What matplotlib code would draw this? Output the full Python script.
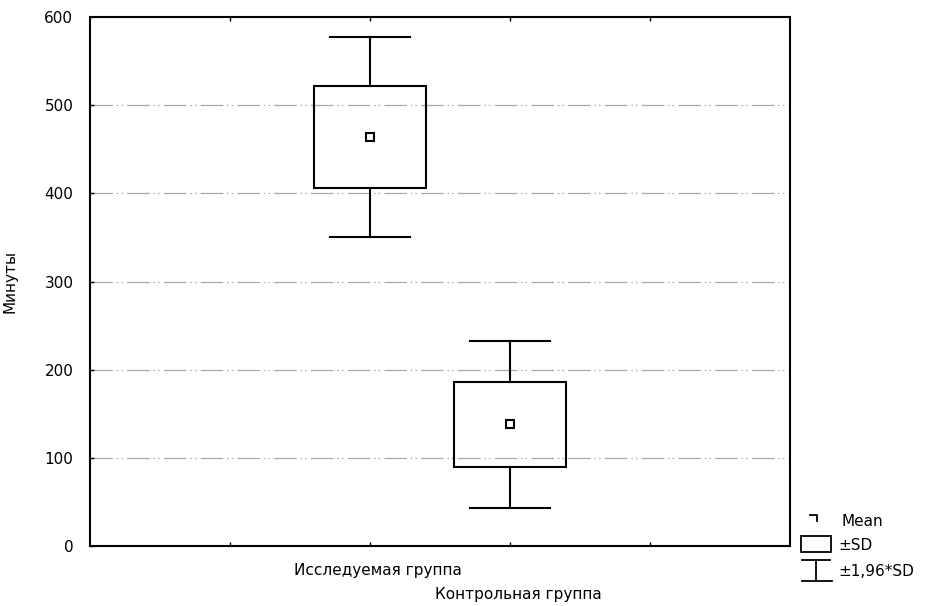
import numpy as np
import matplotlib.pyplot as plt
from matplotlib.lines import Line2D
from matplotlib.patches import Rectangle

plt.rcParams['font.family'] = ['DejaVu Sans']

groups = ['Исследуемая группа', 'Контрольная группа']
means = [464.0, 138.0]
sds = [58.0, 48.5]
positions = [2, 3]
y_ticks = [0, 100, 200, 300, 400, 500, 600]

fig = plt.figure(figsize=(9.3, 6.06), dpi=100)
ax = fig.add_axes([90/930, 60/606, 700/930, 529/606])

box_w = 0.8
cap_w = 0.57
for x, m, s in zip(positions, means, sds):
    lo, hi = m - s, m + s
    wlo, whi = m - 1.96*s, m + 1.96*s
    ax.add_patch(Rectangle((x - box_w/2, lo), box_w, hi - lo, fill=False,
                           edgecolor='black', lw=1.5, zorder=3))
    ax.plot([x, x], [hi, whi], color='black', lw=1.5, zorder=3)
    ax.plot([x, x], [wlo, lo], color='black', lw=1.5, zorder=3)
    ax.plot([x - cap_w/2, x + cap_w/2], [whi, whi], color='black', lw=1.5, zorder=3)
    ax.plot([x - cap_w/2, x + cap_w/2], [wlo, wlo], color='black', lw=1.5, zorder=3)
    ax.plot([x], [m], marker='s', ms=6, mfc='white', mec='black', mew=1.5, zorder=4)

ax.set_xlim(0, 5)
ax.set_ylim(0, 600)
ax.set_yticks(y_ticks)
ax.set_xticks([1, 2, 3, 4])
ax.set_xticklabels([])
ax.tick_params(direction='in', length=3, width=1, top=True, labelsize=11, pad=12)
for yv in y_ticks[1:-1]:
    ax.axhline(yv, color='#a8a8a8', lw=0.9, linestyle=(0, (18, 3, 1.2, 2.5, 1.2, 3.5)), zorder=1)
for sp in ax.spines.values():
    sp.set_linewidth(1.5)

ax.set_ylabel('Минуты', fontsize=11)
ax.yaxis.set_label_coords(-0.103, 0.5)

# staggered group labels under the axis
for i, (x, g) in enumerate(zip(positions, groups)):
    ax.annotate(g, xy=(x, 0), xycoords='data', xytext=(8, -24 - 25*i),
                textcoords='offset pixels', ha='center', va='center', fontsize=11)

# legend drawn at the bottom right of the figure
def fx(px):
    return px / 930

def fy(py):
    return 1 - py / 606

lw_leg = 1.3
fig.add_artist(Line2D([fx(810), fx(817), fx(817)], [fy(515), fy(515), fy(521)],
                      color='black', lw=lw_leg))
fig.text(fx(841), fy(521), 'Mean', fontsize=11, va='center')
fig.add_artist(Rectangle((fx(801), fy(552)), 30/930, 16/606,
                         fill=False, edgecolor='black', lw=lw_leg, transform=fig.transFigure))
fig.text(fx(838), fy(545), '±SD', fontsize=11, va='center')
fig.add_artist(Line2D([fx(802), fx(830)], [fy(560), fy(560)], color='black', lw=lw_leg))
fig.add_artist(Line2D([fx(816), fx(816)], [fy(560), fy(581)], color='black', lw=lw_leg))
fig.add_artist(Line2D([fx(802), fx(832)], [fy(581), fy(581)], color='black', lw=lw_leg))
fig.text(fx(838), fy(571), '±1,96*SD', fontsize=11, va='center')

fig.savefig('out.png', dpi=100)
